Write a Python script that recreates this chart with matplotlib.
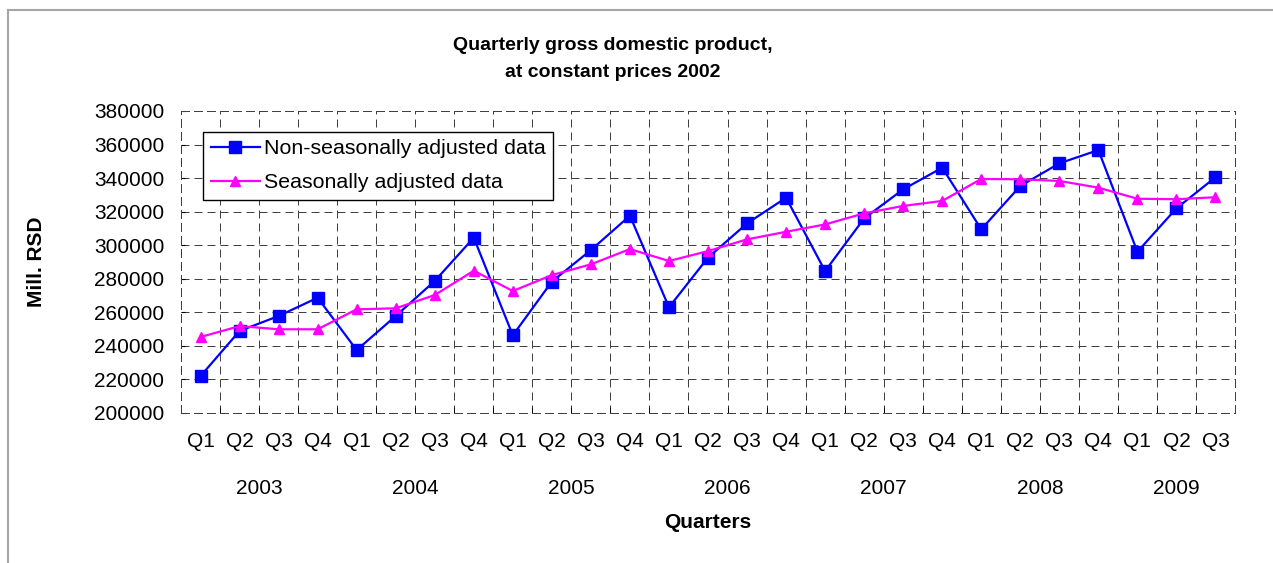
import matplotlib
matplotlib.use("Agg")
import matplotlib.pyplot as plt
from matplotlib.lines import Line2D
import matplotlib.transforms as mtransforms

plt.rcParams['font.family'] = ['Liberation Sans', 'DejaVu Sans']

quarters = ["Q1", "Q2", "Q3", "Q4"] * 6 + ["Q1", "Q2", "Q3"]
years = ["2003", "2004", "2005", "2006", "2007", "2008", "2009"]
non_seasonal = [222000, 248900, 257800, 268700,
                237500, 257800, 278700, 304500,
                246300, 278300, 297100, 317600,
                263000, 292600, 313000, 328300,
                284600, 316000, 333300, 346200,
                309500, 335300, 348800, 356700,
                296100, 322000, 340500]
seasonal = [245300, 251800, 249900, 249900,
            261800, 262400, 270300, 284800,
            272700, 282200, 288600, 297700,
            290600, 296500, 303500, 308000,
            312400, 319000, 323400, 326400,
            339500, 339300, 338300, 334300,
            327700, 327400, 328600]

FS = 15
W, H = 1273, 563
fig = plt.figure(figsize=(W / 100, H / 100), dpi=100)
ax = fig.add_axes([181 / W, 1 - 413 / H, (1235 - 181) / W, (413 - 111) / H])

x = list(range(len(quarters)))
ax.plot(x, non_seasonal, color='#0000FF', lw=1.6, marker='s', ms=8,
        label='Non-seasonally adjusted data', zorder=3)
ax.plot(x, seasonal, color='#FF00FF', lw=1.6, marker='^', ms=7.5,
        label='Seasonally adjusted data', zorder=3)

ax.set_xlim(-0.5, len(quarters) - 0.5)
ax.set_ylim(200000, 380000)
ax.set_yticks(range(200000, 380001, 20000))
ax.set_xticks(x)
ax.set_xticklabels(quarters, fontsize=FS)
ax.tick_params(axis='x', length=0, pad=14)
ax.tick_params(axis='y', labelsize=FS, length=3, direction='in', pad=12)
ax.set_xticks([i + 0.5 for i in range(-1, len(quarters))], minor=True)
ax.tick_params(axis='x', which='minor', length=4, direction='in')

dash = (0, (8, 5))
ax.grid(True, axis='y', which='major', color='#404040', lw=0.72, linestyle=dash)
ax.grid(True, axis='x', which='minor', color='#404040', lw=0.72, linestyle=dash)
ax.grid(False, axis='x', which='major')
for s in ax.spines.values():
    s.set_linestyle(dash)
    s.set_linewidth(0.72)
    s.set_color('#404040')

# year labels under groups of quarters
trans = mtransforms.blended_transform_factory(ax.transData, fig.transFigure)
start = 0
for yr in years:
    n = 4 if yr != "2009" else 3
    cx = start + (n - 1) / 2
    ax.text(cx, 1 - 488 / H, yr, transform=trans, ha='center', va='center',
            fontsize=FS)
    start += n

fig.text(0.5 * (181 + 1235) / W, 1 - 522 / H, "Quarters", ha='center',
         va='center', fontsize=FS, fontweight='bold')
fig.text(36 / W, 1 - 262 / H, "Mill. RSD", ha='center', va='center',
         rotation=90, fontsize=FS, fontweight='bold')
fig.text(613 / W, 1 - 59 / H, "Quarterly gross domestic product,\nat constant prices 2002",
         ha='center', va='center', fontsize=14, fontweight='bold', linespacing=1.8)

leg = ax.legend(loc='upper left', bbox_to_anchor=(0.0209, 0.9305),
                borderaxespad=0, fontsize=15.4, fancybox=False, framealpha=1,
                edgecolor='black', handlelength=2.3, handletextpad=0.2,
                borderpad=0.35, labelspacing=0.68)
leg.get_frame().set_linewidth(1.0)

# outer chart border (top and left visible)
fig.add_artist(Line2D([8 / W, 8 / W], [0, 1 - 10 / H], transform=fig.transFigure,
                      color='#a6a6a6', lw=1.5))
fig.add_artist(Line2D([8 / W, 1], [1 - 10 / H, 1 - 10 / H], transform=fig.transFigure,
                      color='#a6a6a6', lw=1.5))

fig.savefig("out.png", dpi=100)
